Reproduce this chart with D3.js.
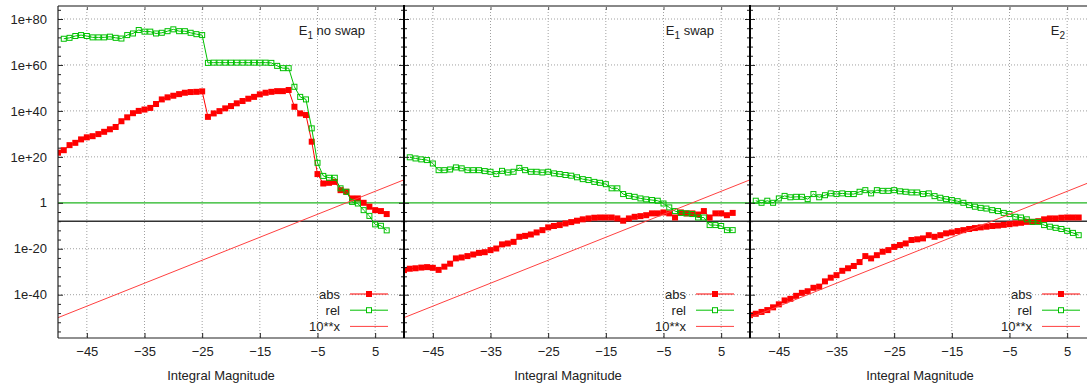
<!DOCTYPE html>
<html>
<head>
<meta charset="utf-8">
<script src="https://cdn.jsdelivr.net/npm/d3@7"></script>
<style>
body { margin: 0; background: #fff; }
svg { display: block; font-family: "Liberation Sans", Arial, sans-serif; }
</style>
</head>
<body>
<svg width="1087" height="387"></svg>
<script>
// integral magnitudes
var absX = [-50,-49,-48,-47,-46,-45,-44,-43,-42,-41,-40,-39,-38,-37,-36,-35,-34,-33,-32,-31,
            -30,-29,-28,-27,-26,-25,-24,-23,-22,-21,-20,-19,-18,-17,-16,-15,-14,-13,-12,-11,
            -10,-9,-8,-7,-6,-5,-4,-3,-2,-1,0,1,2,3,4,5,6,7];
var relX = absX.slice(1);

// values as powers of ten
var absE1NoSwap = [21.8,22.9,25.1,26.1,27.6,28.5,29,29.9,30.9,32,33,35.5,37.2,39,40,40.6,41.3,43,45,45.9,
                   46.6,47.3,47.9,48.2,48.3,48.5,37.4,38.9,39.9,41.1,42.1,43.3,44.3,45.3,46.1,47.2,47.9,48.3,48.6,48.6,
                   49.1,41.8,38.9,38.2,26.6,12.5,8.4,8.7,9.1,5.5,4.8,1.9,1.9,0,-1.7,-3.2,-3.6,-4.9];
var relE1NoSwap = [71.4,71.8,72.6,73,72.6,72,72,72,72.3,71.8,71.5,73,73.7,75.2,74.5,74.5,73.7,74,74.7,
                   75.5,74.7,74.7,74,73.4,73,60.9,61,61,61,61,61,61,61,61,61,61,60.9,59.6,58.6,
                   58.6,50.5,46.1,45,32.4,17.4,11.7,10.9,10.9,6.3,4.8,0.4,-0.3,-3.2,-5.7,-9.4,-10,-12];

var absE1Swap = [-29.3,-28.7,-28.5,-28.2,-28,-28.3,-29.2,-27.8,-26.5,-24.2,-23.8,-23.2,-22.5,-21.8,-21.5,-20.6,-19.9,-18.1,-17.7,-17,
                 -14.8,-14.4,-13.8,-12.9,-11.9,-10.7,-10.1,-9.7,-9,-8.4,-7.8,-7.2,-6.8,-6.5,-6.4,-6.4,-6.4,-6.8,-7.8,-6.8,
                 -6.1,-5.8,-5.4,-4.6,-4.6,-4.2,-4.6,-6.4,-4.2,-4.6,-4.6,-5.1,-3.6,-6.4,-4.6,-4.6,-5.4,-4.4];
var relE1Swap = [19.8,19.3,18.9,18.6,17.1,14.2,14.2,14.5,15.4,15,14.2,14.2,14.2,13.8,13.5,12.5,13.9,13.2,13.5,
                 15.2,14.2,13.5,13.5,13.2,13.5,12.8,12.5,12.1,11.8,11.1,10.3,9.9,9.1,8.7,8.1,6.3,6.3,3.8,3,
                 2.6,1.9,1.5,1.2,0.9,-0.3,-2,-3.6,-4.4,-4.6,-4.9,-6.4,-6.4,-9.7,-9.7,-10.1,-11.9,-11.9];

var absE2 = [-48.9,-48.3,-47.5,-46.7,-45.5,-44.2,-42.5,-41.8,-40.5,-39.2,-38.5,-37,-36.5,-34.2,-32.6,-31.5,-29.6,-28.5,-27.5,-25.8,
             -23.2,-24.2,-22.8,-21.3,-20.6,-19.2,-18.4,-17.7,-16.2,-15.9,-15.5,-14.1,-14.8,-14.1,-13.3,-12.9,-12.3,-11.9,-11.4,-11,
             -10.7,-10.4,-10.1,-9.9,-9.6,-9.3,-9,-8.7,-8.3,-8.3,-8,-7.2,-6.8,-6.8,-6.5,-6.4,-6.4,-6.4];
var relE2 = [0.9,0,0.9,0,1.9,3,2.4,2.6,2.6,1.6,3.8,2.4,3.3,4.1,3.8,4.1,3.8,3.8,4.8,
             5.5,4.1,5.5,5.2,5.2,5.5,5,4.8,4.5,4.5,3.8,4.1,2.9,2.2,1.6,1.2,0.7,0,-1,-1.7,
             -2.2,-2.5,-3.2,-3.6,-4.4,-4.9,-6.1,-6.4,-7.2,-8.3,-8.3,-9.7,-10.4,-10.9,-11.4,-12.2,-13.1,-14.1];

// 10**x end points
var powX = [-50, 10];
var powE = [-50, 10];

var titles = [["E", "1", " no swap"], ["E", "1", " swap"], ["E", "2", ""]];
var legendLabels = ["abs", "rel", "10**x"];
var xTicks = [-45, -35, -25, -15, -5, 5];
var yMajor = [-40, -20, 0, 20, 40, 60, 80];
var yMinor = [-56,-52,-48,-44,-36,-32,-28,-24,-16,-12,-8,-4,4,8,12,16,24,28,32,36,44,48,52,56,64,68,72,76,84];

var series = [
  {abs: absE1NoSwap, rel: relE1NoSwap, title: titles[0], tx: 307, lx: 163},
  {abs: absE1Swap, rel: relE1Swap, title: titles[1], tx: 310, lx: 164},
  {abs: absE2, rel: relE2, title: titles[2], tx: 315, lx: 170}
];

var svg = d3.select("svg"),
    plotTop = 6, plotBottom = 338, pw = 346,
    lefts = [58, 404, 750];

var p10 = function(e) { return Math.pow(10, e); };
var x = d3.scaleLinear().domain([-50, 10]).range([0, pw]);
var y = d3.scaleLog().domain([p10(-58.85), p10(85.66)]).range([plotBottom, plotTop]);

var fmt = function(v) {
  var e = Math.round(Math.log10(v));
  if (e == 0) return "1";
  return "1e" + (e > 0 ? "+" : "-") + Math.abs(e);
};

var line = d3.line()
    .x(function(d) { return x(d[0]); })
    .y(function(d) { return y(p10(d[1])); });

svg.append("defs").append("clipPath").attr("id", "clip")
  .append("rect").attr("x", 0).attr("y", plotTop).attr("width", pw).attr("height", plotBottom - plotTop);

series.forEach(function(s, i) {
  var g = svg.append("g").attr("transform", "translate(" + lefts[i] + ",0)");

  // grid
  g.append("g").selectAll("line.vg").data(xTicks).enter().append("line")
      .attr("x1", function(d) { return x(d); }).attr("x2", function(d) { return x(d); })
      .attr("y1", plotTop).attr("y2", plotBottom)
      .attr("stroke", "#a0a0a0").attr("stroke-dasharray", "1,2");
  g.append("g").selectAll("line.hg").data(yMajor.filter(function(d) { return d != 0; })).enter().append("line")
      .attr("x1", 0).attr("x2", pw)
      .attr("y1", function(d) { return y(p10(d)); }).attr("y2", function(d) { return y(p10(d)); })
      .attr("stroke", "#a0a0a0").attr("stroke-dasharray", "1,2");
});

// reference lines at 1 and 1e-8
svg.append("line").attr("x1", 58).attr("x2", 1087)
    .attr("y1", y(1)).attr("y2", y(1)).attr("stroke", "#1fb51f").attr("stroke-width", 1.2);
svg.append("line").attr("x1", 58).attr("x2", 1087)
    .attr("y1", y(1e-8)).attr("y2", y(1e-8)).attr("stroke", "#333").attr("stroke-width", 1.4);

series.forEach(function(s, i) {
  var g = svg.append("g").attr("transform", "translate(" + lefts[i] + ",0)");
  var data = g.append("g").attr("clip-path", "url(#clip)");

  var absPts = absX.map(function(v, j) { return [v, s.abs[j]]; });
  var relPts = relX.map(function(v, j) { return [v, s.rel[j]]; });

  data.append("path").attr("d", line(absPts))
      .attr("fill", "none").attr("stroke", "#ff0000").attr("stroke-width", 1);
  data.selectAll("rect.abs").data(absPts).enter().append("rect")
      .attr("x", function(d) { return x(d[0]) - 3; })
      .attr("y", function(d) { return y(p10(d[1])) - 3; })
      .attr("width", 6).attr("height", 6).attr("fill", "#ff0000");

  data.append("path").attr("d", line(relPts))
      .attr("fill", "none").attr("stroke", "#00c000").attr("stroke-width", 1);
  data.selectAll("rect.rel").data(relPts).enter().append("rect")
      .attr("x", function(d) { return x(d[0]) - 2.5; })
      .attr("y", function(d) { return y(p10(d[1])) - 2.5; })
      .attr("width", 5).attr("height", 5)
      .attr("fill", "none").attr("stroke", "#00c000").attr("stroke-width", 1);

  data.append("path").attr("d", line(powX.map(function(v, j) { return [v, powE[j]]; })))
      .attr("fill", "none").attr("stroke", "#ff4040").attr("stroke-width", 1);

  // x axis
  var xa = g.append("g").attr("transform", "translate(0," + plotBottom + ")")
      .call(d3.axisBottom(x).tickValues(xTicks).tickSize(-5).tickPadding(9).tickFormat(d3.format("d")));
  xa.select(".domain").remove();
  xa.selectAll("text").attr("font-size", 13).attr("fill", "#222").attr("font-family", null);
  xa.selectAll("line").attr("stroke", "#222");

  var xt = g.append("g").attr("transform", "translate(0," + plotTop + ")")
      .call(d3.axisTop(x).tickValues(xTicks).tickSize(-4).tickFormat(""));
  xt.select(".domain").remove();
  xt.selectAll("line").attr("stroke", "#555");

  // mirrored y ticks on the panel's edges
  [0, pw].forEach(function(edge) {
    [[yMajor, 5], [yMinor, 3]].forEach(function(t) {
      var vals = t[0].map(p10);
      var a1 = g.append("g").attr("transform", "translate(" + edge + ",0)")
          .call(d3.axisLeft(y).tickValues(vals).tickSize(edge == 0 ? -t[1] : t[1]).tickFormat(""));
      a1.select(".domain").remove();
      a1.selectAll("line").attr("stroke", "#222");
    });
  });

  // title
  var tt = g.append("text").attr("x", s.tx).attr("y", 35)
      .attr("font-size", 13).attr("fill", "#222").attr("text-anchor", "end");
  tt.append("tspan").text(s.title[0]);
  tt.append("tspan").attr("font-size", 10).attr("dy", 4).text(s.title[1]);
  tt.append("tspan").attr("dy", -4).text(s.title[2]);

  // x label
  g.append("text").attr("x", s.lx).attr("y", 380).attr("text-anchor", "middle")
      .attr("font-size", 13).attr("fill", "#222").text("Integral Magnitude");

  // legend
  var lg = g.append("g");
  legendLabels.forEach(function(lab, k) {
    var ly = 294 + k * 16.2;
    lg.append("text").attr("x", 282).attr("y", ly + 4.5).attr("text-anchor", "end")
        .attr("font-size", 13).attr("fill", "#222").text(lab);
    lg.append("line").attr("x1", 292).attr("x2", 330).attr("y1", ly).attr("y2", ly)
        .attr("stroke", k == 1 ? "#00c000" : (k == 0 ? "#ff0000" : "#ff4040"));
    if (k == 0) lg.append("rect").attr("x", 308).attr("y", ly - 3).attr("width", 6).attr("height", 6).attr("fill", "#ff0000");
    if (k == 1) lg.append("rect").attr("x", 308.5).attr("y", ly - 2.5).attr("width", 5).attr("height", 5)
        .attr("fill", "#fff").attr("stroke", "#00c000");
  });
});

// y tick labels on the first panel
var ya = svg.append("g").attr("transform", "translate(58,0)")
    .call(d3.axisLeft(y).tickValues(yMajor.map(p10)).tickSize(0).tickPadding(11).tickFormat(fmt));
ya.select(".domain").remove();
ya.selectAll("text").attr("font-size", 13).attr("fill", "#222").attr("font-family", null);

// frame
svg.append("line").attr("x1", 58).attr("x2", 1087).attr("y1", plotTop).attr("y2", plotTop)
    .attr("stroke", "#888").attr("stroke-width", 2);
svg.append("line").attr("x1", 58).attr("x2", 1087).attr("y1", plotBottom).attr("y2", plotBottom)
    .attr("stroke", "#222").attr("stroke-width", 1.2);
svg.append("line").attr("x1", 58).attr("x2", 58).attr("y1", plotTop).attr("y2", plotBottom)
    .attr("stroke", "#222").attr("stroke-width", 1.2);
[lefts[1], lefts[2]].forEach(function(px) {
  svg.append("line").attr("x1", px).attr("x2", px).attr("y1", plotTop - 1).attr("y2", plotBottom)
      .attr("stroke", "#000").attr("stroke-width", 2);
});
</script>
</body>
</html>
